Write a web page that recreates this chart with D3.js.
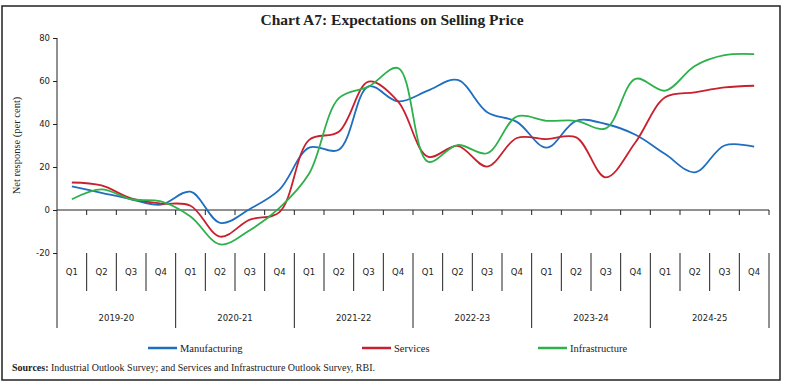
<!DOCTYPE html>
<html>
<head>
<meta charset="utf-8">
<script src="https://cdn.jsdelivr.net/npm/d3@7"></script>
<style>
  body { margin: 0; background: #fff; }
  svg text { fill: #222; }
</style>
</head>
<body>
<svg id="chart" width="785" height="387"></svg>
<script>
var years = ["2019-20", "2020-21", "2021-22", "2022-23", "2023-24", "2024-25"];
var quarters = ["Q1", "Q2", "Q3", "Q4"];
var yTicks = [-20, 0, 20, 40, 60, 80];

// net response, per cent, one value per quarter
var manufacturing = [11, 8, 5, 2.5, 8.5, -6, 0.5, 9.5, 29, 28, 57.5, 50.5, 55.5, 60.5, 45.5, 41, 29, 41.5, 40, 35, 26, 17.5, 30, 29.5];
var services = [12.8, 11.4, 5.4, 3, 2, -12.4, -4.5, -1, 32.6, 36.4, 59.7, 50.4, 24.8, 29.8, 20.2, 33.5, 33, 33.8, 15.2, 31.5, 52.4, 54.7, 57, 57.8];
var infrastructure = [5, 9.6, 5, 4, -3, -16, -9.4, 1, 17, 52, 57.4, 66, 22.5, 30.2, 26.4, 43.5, 41.5, 41.5, 38, 61, 55.5, 67, 72, 72.5];

var seriesNames = ["Manufacturing", "Services", "Infrastructure"];
var seriesColors = ["#1f6ebf", "#c8202e", "#2eb04b"];

var svg = d3.select("svg#chart"),
  margin = {top: 38, right: 16, bottom: 134, left: 57},
  width = 769 - margin.left,
  height = 253 - margin.top;

// frame
svg.append("rect")
  .attr("x", 2).attr("y", 6).attr("width", 778).attr("height", 374)
  .attr("fill", "none").attr("stroke", "#222").attr("stroke-width", 1.5);

svg.append("text")
  .attr("x", 392).attr("y", 25)
  .attr("text-anchor", "middle")
  .style("font-family", "'Liberation Serif', serif")
  .style("font-size", "15.5px").style("font-weight", "bold")
  .text("Chart A7: Expectations on Selling Price");

var g = svg.append("g").attr("transform", "translate(" + margin.left + "," + margin.top + ")");

var keys = [];
years.forEach(function(yr) { quarters.forEach(function(q) { keys.push(yr + " " + q); }); });

var x = d3.scaleBand().domain(keys).range([0, width]);
var y = d3.scaleLinear().domain([-20, 80]).range([height, 0]);

// y axis
var yAxis = d3.axisLeft(y).tickValues(yTicks).tickSize(4).tickPadding(3)
  .tickFormat(function(d) { return String(d); });
g.append("g").call(yAxis)
  .call(function(a) {
    a.select(".domain").remove();
    a.selectAll(".tick text").style("font-family", "'DejaVu Sans', sans-serif").style("font-size", "8.5px").attr("fill", "#333");
    a.selectAll(".tick line").attr("stroke", "#222");
  });
// y axis line runs down through the category rows
g.append("line")
  .attr("x1", 0).attr("x2", 0).attr("y1", 0).attr("y2", 290)
  .attr("stroke", "#222").attr("stroke-width", 1);

svg.append("text")
  .attr("transform", "translate(20," + (margin.top + y(30)) + ") rotate(-90)")
  .attr("text-anchor", "middle")
  .style("font-family", "'Liberation Serif', serif").style("font-size", "10.5px")
  .text("Net  response (per cent)");

// zero line with tick marks at band edges
var zeroAxis = d3.axisBottom(x).tickSize(5).tickFormat("");
g.append("g").attr("transform", "translate(0," + y(0) + ")")
  .call(zeroAxis)
  .call(function(a) {
    a.select(".domain").attr("d", "M0,0H" + width).attr("stroke", "#222");
    a.selectAll(".tick").remove();
  });
g.selectAll(".zt").data(keys).enter().append("line")
  .attr("x1", function(d) { return x(d) + x.bandwidth(); })
  .attr("x2", function(d) { return x(d) + x.bandwidth(); })
  .attr("y1", y(0)).attr("y2", y(0) + 5)
  .attr("stroke", "#222");

// category rows under the plot
var rowTop = height;
g.selectAll(".qsep").data(keys).enter().append("line")
  .attr("x1", function(d) { return x(d) + x.bandwidth(); })
  .attr("x2", function(d) { return x(d) + x.bandwidth(); })
  .attr("y1", rowTop)
  .attr("y2", function(d, i) { return (i % 4 === 3) ? rowTop + 75 : rowTop + 38; })
  .attr("stroke", "#222");

g.selectAll(".qlab").data(keys).enter().append("text")
  .attr("x", function(d) { return x(d) + x.bandwidth() / 2; })
  .attr("y", rowTop + 22)
  .attr("text-anchor", "middle")
  .style("font-family", "'DejaVu Sans', sans-serif").style("font-size", "8.5px").attr("fill", "#333")
  .text(function(d) { return d.split(" ")[1]; });

g.selectAll(".ylab").data(years).enter().append("text")
  .attr("x", function(d) { return x(d + " Q3"); })
  .attr("y", rowTop + 68)
  .attr("text-anchor", "middle")
  .style("font-family", "'DejaVu Sans', sans-serif").style("font-size", "8.5px").attr("fill", "#333")
  .text(function(d) { return d; });

// lines
var allSeries = [manufacturing, services, infrastructure];
var line = d3.line()
  .x(function(d, i) { return x(keys[i]) + x.bandwidth() / 2; })
  .y(function(d) { return y(d); })
  .curve(d3.curveCatmullRom.alpha(0.5));

g.selectAll(".series").data(allSeries).enter().append("path")
  .attr("d", line)
  .attr("fill", "none")
  .attr("stroke", function(d, i) { return seriesColors[i]; })
  .attr("stroke-width", 1.8);

// legend
var legendX = [148, 362, 538];
var lg = svg.selectAll(".lg").data(seriesNames).enter().append("g")
  .attr("transform", function(d, i) { return "translate(" + legendX[i] + ",348)"; });
lg.append("line").attr("x1", 0).attr("x2", 29).attr("y1", 0).attr("y2", 0)
  .attr("stroke", function(d, i) { return seriesColors[i]; }).attr("stroke-width", 2.5);
lg.append("text").attr("x", 32).attr("y", 3.5)
  .style("font-family", "'Liberation Serif', serif").style("font-size", "10.5px")
  .text(function(d) { return d; });

var src = svg.append("text").attr("x", 12).attr("y", 371)
  .style("font-family", "'Liberation Serif', serif").style("font-size", "10px");
src.append("tspan").style("font-weight", "bold").text("Sources:");
src.append("tspan").text(" Industrial Outlook Survey; and Services and Infrastructure Outlook Survey, RBI.");
</script>
</body>
</html>
